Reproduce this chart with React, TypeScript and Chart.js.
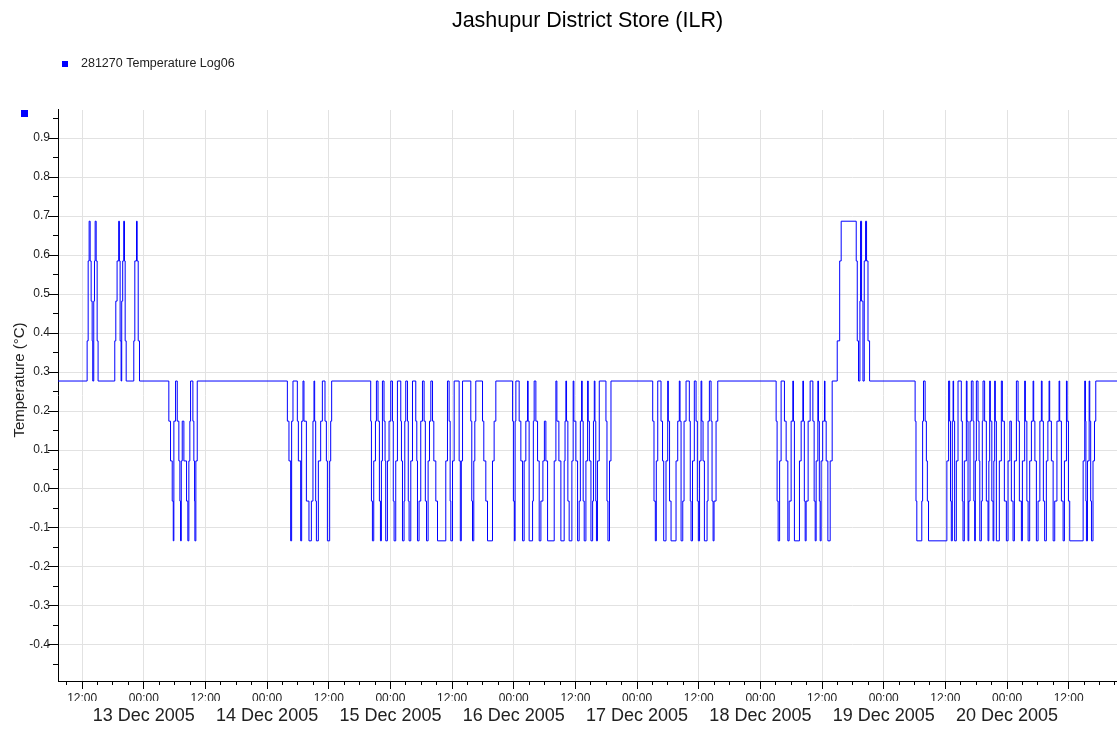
import { useEffect, useRef } from 'react';
import { Chart, registerables } from 'chart.js';

Chart.register(...registerables);

const FONT = '"Liberation Sans", Arial, Helvetica, sans-serif';

const chartTitle = 'Jashupur District Store (ILR)';
const seriesName = '281270 Temperature Log06';
const yAxisTitle = 'Temperature (°C)';

// x axis: hours since 12 Dec 2005 00:00
const xMin = 7.3;
const xMax = 213.4;
const yMin = -0.4926;
const yMax = 0.9723;

const xTickHours = [12, 24, 36, 48, 60, 72, 84, 96, 108, 120, 132, 144, 156, 168, 180, 192, 204];
const xTickLabels = ['12:00', '00:00', '12:00', '00:00', '12:00', '00:00', '12:00', '00:00', '12:00', '00:00', '12:00', '00:00', '12:00', '00:00', '12:00', '00:00', '12:00'];
const dateTickHours = [24, 48, 72, 96, 120, 144, 168, 192];
const dateTickLabels = ['13 Dec 2005', '14 Dec 2005', '15 Dec 2005', '16 Dec 2005', '17 Dec 2005', '18 Dec 2005', '19 Dec 2005', '20 Dec 2005'];
const yTickValues = [-0.4, -0.3, -0.2, -0.1, 0.0, 0.1, 0.2, 0.3, 0.4, 0.5, 0.6, 0.7, 0.8, 0.9];
const yMinorTicks = [-0.45, -0.35, -0.25, -0.15, -0.05, 0.05, 0.15, 0.25, 0.35, 0.45, 0.55, 0.65, 0.75, 0.85, 0.95];

// change points: [hour, temperature °C] — value holds from that hour on
const spikesDec12: [number, number][] = [
  [7.3, 0.277],
  [12.97, 0.380], [13.17, 0.585], [13.36, 0.687], [13.56, 0.585], [13.75, 0.482], [13.95, 0.380], [14.06, 0.277],
  [14.26, 0.482], [14.40, 0.585], [14.53, 0.687], [14.73, 0.585], [14.92, 0.380], [15.10, 0.277],
  [18.35, 0.380], [18.55, 0.482], [18.80, 0.585], [19.11, 0.687], [19.25, 0.585], [19.39, 0.380], [19.58, 0.277],
  [19.70, 0.482], [19.89, 0.585], [20.09, 0.687], [20.24, 0.585], [20.37, 0.380], [20.57, 0.277],
  [22.05, 0.380], [22.25, 0.585], [22.58, 0.687], [22.71, 0.585], [22.91, 0.380], [23.16, 0.277],
];

const dipsDec13: [number, number][] = [
  [28.87, 0.174], [29.20, 0.072], [29.53, -0.031], [29.73, -0.133], [29.85, 0.174], [30.18, 0.277],
  [30.51, 0.174], [30.82, 0.072], [31.02, -0.031], [31.15, -0.133], [31.29, 0.072], [31.48, 0.174],
  [31.80, 0.072], [32.32, -0.031], [32.57, -0.133], [32.77, 0.072], [32.96, 0.174], [33.10, 0.277],
  [33.55, 0.174], [33.74, 0.072], [33.88, -0.031], [33.94, -0.133], [34.13, 0.072], [34.40, 0.277],
];

const dipsDec14: [number, number][] = [
  [51.94, 0.174], [52.25, 0.072], [52.58, -0.133], [52.77, 0.174], [53.03, 0.277],
  [53.88, 0.174], [54.08, 0.072], [54.53, -0.133], [54.72, 0.174], [54.98, 0.277],
  [55.17, 0.174], [55.64, -0.031], [56.14, -0.133], [56.61, -0.031], [56.92, 0.174], [57.12, 0.277],
  [57.25, 0.174], [57.45, -0.031], [57.59, -0.133], [57.97, 0.072], [58.42, 0.174], [58.75, 0.277],
  [59.26, 0.174], [59.53, 0.072], [59.73, -0.133], [60.17, 0.072], [60.37, 0.174], [60.56, 0.277],
];

const dipsDec15: [number, number][] = [
  [68.16, 0.174], [68.30, -0.031], [68.49, -0.133], [68.75, 0.072], [69.08, 0.174], [69.27, 0.277],
  [69.58, 0.174], [69.85, -0.031], [70.05, -0.133], [70.24, 0.072], [70.44, 0.277],
  [70.75, 0.174], [70.95, 0.072], [71.08, -0.133], [71.41, 0.072], [71.73, 0.174], [72.06, 0.277],
  [72.39, 0.174], [72.55, -0.031], [72.71, -0.133], [73.03, 0.072], [73.36, 0.277],
  [74.01, 0.174], [74.14, 0.072], [74.34, -0.133], [74.65, -0.031], [74.79, 0.174], [74.98, 0.277],
  [75.31, 0.174], [75.47, -0.031], [75.63, -0.133], [75.96, 0.072], [76.29, 0.277],
  [76.93, 0.174], [77.13, 0.072], [77.26, -0.133], [77.57, -0.031], [77.90, 0.174], [78.23, 0.277],
  [78.55, 0.174], [78.79, -0.031], [79.02, -0.133], [79.33, 0.072], [79.60, 0.174], [79.86, 0.277],
  [80.19, 0.174], [80.44, 0.072], [80.83, -0.031], [81.16, -0.133], [82.77, 0.072], [83.10, 0.277],
  [83.42, 0.174], [83.62, -0.031], [83.75, -0.133], [84.08, 0.072], [84.40, 0.277],
  [85.37, 0.072], [85.60, -0.133], [85.79, 0.072], [86.03, 0.277],
  [87.64, 0.174], [87.83, -0.031], [87.97, -0.133], [88.22, 0.072], [88.42, 0.174], [88.61, 0.277],
  [89.92, 0.174], [90.17, 0.072], [90.56, -0.031], [90.89, -0.133], [91.86, 0.072], [92.18, 0.174], [92.51, 0.277],
];

const dipsDec16: [number, number][] = [
  [95.77, 0.174], [95.93, -0.031], [96.12, -0.133], [96.26, 0.174], [96.41, 0.277],
  [97.05, 0.174], [97.38, 0.072], [97.71, -0.133], [98.02, 0.072], [98.35, 0.174], [98.68, 0.277],
  [98.80, 0.174], [98.99, -0.133], [99.66, -0.031], [99.81, 0.174], [99.97, 0.277],
  [100.30, 0.174], [100.63, 0.072], [100.95, -0.133], [101.28, -0.031], [101.67, 0.072], [101.96, 0.174],
  [102.25, 0.072], [102.58, -0.133], [103.87, 0.072], [104.20, 0.277],
  [104.39, 0.174], [104.78, 0.072], [105.17, -0.133], [105.81, 0.072], [105.98, 0.174], [106.14, 0.277],
  [106.27, 0.174], [106.53, -0.031], [106.78, -0.133], [107.31, 0.072], [107.56, 0.277],
  [107.70, 0.174], [108.09, 0.072], [108.42, -0.133], [108.73, -0.031], [108.96, 0.174], [109.20, 0.277],
  [109.32, 0.174], [109.51, -0.031], [109.71, -0.133], [110.04, 0.072], [110.37, 0.277],
  [110.49, 0.174], [110.72, 0.072], [111.02, -0.133], [111.35, -0.031], [111.51, 0.174], [111.67, 0.277],
  [111.80, 0.174], [111.96, -0.031], [112.09, -0.133], [112.29, 0.072], [112.64, 0.277],
  [113.94, 0.174], [114.14, -0.031], [114.33, -0.133], [114.63, 0.072], [114.92, 0.277],
];

const dipsDec17: [number, number][] = [
  [123.04, 0.174], [123.29, -0.031], [123.55, -0.133], [123.74, 0.072], [124.02, 0.277],
  [124.66, 0.174], [124.95, 0.072], [125.18, -0.133], [125.63, 0.072], [125.96, 0.277],
  [126.08, 0.174], [126.32, -0.031], [126.61, -0.133], [127.58, 0.072], [127.91, 0.174], [128.22, 0.277],
  [128.36, 0.174], [128.56, -0.133], [128.89, -0.031], [129.14, 0.174], [129.53, 0.277],
  [130.17, 0.174], [130.35, -0.031], [130.50, -0.133], [130.79, 0.072], [131.14, 0.277],
  [131.48, 0.174], [131.73, -0.031], [131.92, -0.133], [132.16, 0.072], [132.45, 0.277],
  [132.59, 0.174], [132.84, 0.072], [133.10, -0.133], [133.62, -0.031], [133.81, 0.174], [134.07, 0.277],
  [134.40, 0.174], [134.59, -0.031], [134.79, -0.133], [134.98, -0.031], [135.37, 0.174], [135.70, 0.277],
];

const dipsDec18: [number, number][] = [
  [147.06, 0.174], [147.25, -0.031], [147.45, -0.133], [147.74, 0.072], [148.03, 0.277],
  [148.68, 0.174], [149.01, 0.072], [149.34, -0.133], [149.59, -0.031], [149.98, 0.174], [150.31, 0.277],
  [150.43, 0.174], [150.62, -0.133], [151.60, 0.072], [151.93, 0.174], [152.26, 0.277],
  [152.38, 0.174], [152.55, -0.031], [152.71, -0.133], [152.90, -0.031], [153.29, 0.174], [153.68, 0.277],
  [154.21, 0.174], [154.46, -0.031], [154.66, -0.133], [154.85, 0.072], [155.18, 0.277],
  [155.30, 0.174], [155.47, -0.031], [155.63, -0.133], [155.82, 0.072], [156.12, 0.174], [156.47, 0.277],
  [156.57, 0.174], [156.80, 0.072], [157.13, -0.133], [157.58, 0.072], [157.97, 0.277],
];

const spikesDec18: [number, number][] = [
  [158.95, 0.380], [159.43, 0.585], [159.72, 0.687], [162.65, 0.585], [162.85, 0.380], [163.10, 0.277],
  [163.37, 0.482], [163.49, 0.687], [163.69, 0.482], [163.96, 0.277],
  [164.21, 0.585], [164.47, 0.687], [164.66, 0.585], [164.94, 0.380], [165.25, 0.277],
];

const dipsDec19: [number, number][] = [
  [174.11, 0.174], [174.28, -0.031], [174.44, -0.133], [175.41, -0.031], [175.57, 0.174], [175.74, 0.277],
  [176.06, 0.174], [176.30, 0.072], [176.49, -0.031], [176.72, -0.133], [180.29, 0.072], [180.63, 0.277],
  [180.83, 0.174], [181.00, -0.031], [181.15, -0.133], [181.35, 0.174], [181.50, 0.277],
  [181.60, 0.174], [181.80, -0.133], [182.13, 0.072], [182.46, 0.277],
  [183.10, 0.174], [183.30, -0.031], [183.43, -0.133], [183.69, 0.072], [184.08, 0.277],
  [184.21, 0.174], [184.41, -0.133], [184.56, -0.031], [184.80, 0.174], [185.05, 0.277],
  [185.38, 0.174], [185.54, -0.031], [185.70, -0.133], [185.83, 0.072], [186.03, 0.277],
  [186.35, 0.174], [186.55, 0.072], [186.70, -0.133], [187.00, -0.031], [187.19, 0.174], [187.33, 0.277],
  [187.64, 0.174], [187.97, -0.031], [188.30, -0.133], [188.46, 0.072], [188.62, 0.277],
  [188.75, 0.174], [189.04, -0.031], [189.28, -0.133], [189.43, 0.072], [189.59, 0.277],
  [189.72, 0.174], [189.92, -0.133], [190.50, 0.072], [190.89, 0.277],
];

const dipsDec20: [number, number][] = [
  [191.09, 0.174], [191.48, -0.031], [191.87, -0.133], [192.20, 0.072], [192.55, 0.174],
  [192.84, -0.031], [193.17, -0.133], [193.43, 0.072], [193.82, 0.277],
  [194.15, 0.174], [194.40, -0.031], [194.79, -0.133], [194.99, 0.072], [195.43, 0.277],
  [195.57, 0.174], [195.86, -0.031], [196.10, -0.133], [196.41, 0.072], [196.74, 0.174], [197.07, 0.277],
  [197.19, 0.174], [197.42, 0.072], [197.71, -0.133], [198.04, -0.031], [198.39, 0.174], [198.68, 0.277],
  [198.82, 0.174], [199.07, -0.031], [199.32, -0.133], [199.65, 0.072], [199.95, 0.174], [200.18, 0.277],
  [200.30, 0.174], [200.63, 0.072], [200.97, -0.133], [201.28, -0.031], [201.71, 0.174], [202.13, 0.277],
  [202.25, 0.174], [202.58, -0.031], [202.91, -0.133], [203.17, 0.072], [203.56, 0.277],
  [203.69, 0.174], [203.95, -0.031], [204.20, -0.133], [206.81, 0.072], [207.12, 0.277],
  [207.26, 0.174], [207.35, -0.031], [207.45, -0.133], [207.65, 0.072], [207.98, 0.277],
  [208.10, 0.174], [208.28, -0.031], [208.43, -0.133], [208.73, 0.072], [209.02, 0.174], [209.27, 0.277],
  [213.4, 0.277],
];

const allReadings = [
  ...spikesDec12, ...dipsDec13, ...dipsDec14, ...dipsDec15, ...dipsDec16,
  ...dipsDec17, ...dipsDec18, ...spikesDec18, ...dipsDec19, ...dipsDec20,
];

const alignPx = (p: number) => Math.round(p - 0.5) + 0.5;

const decorPlugin = {
  id: 'decor',
  afterDraw(chart: any) {
    const { ctx } = chart;
    const xs = chart.scales.x;
    const ys = chart.scales.y;
    ctx.save();
    // minor ticks
    ctx.strokeStyle = '#000';
    ctx.lineWidth = 1;
    ctx.beginPath();
    for (const v of yMinorTicks) {
      const py = alignPx(ys.getPixelForValue(v));
      ctx.moveTo(ys.right - 5, py);
      ctx.lineTo(ys.right, py);
    }
    for (let h = Math.ceil(xMin / 3) * 3; h <= xMax; h += 3) {
      if (h % 12 === 0) continue;
      const px = alignPx(xs.getPixelForValue(h));
      ctx.moveTo(px, xs.top);
      ctx.lineTo(px, xs.top + 4);
    }
    ctx.stroke();
    // legend
    ctx.fillStyle = '#0000ff';
    ctx.fillRect(62, 61, 6, 6);
    ctx.fillRect(21, 110, 7, 7);
    ctx.fillStyle = '#222';
    ctx.font = `12.5px ${FONT}`;
    ctx.textAlign = 'left';
    ctx.textBaseline = 'alphabetic';
    ctx.fillText(seriesName, 81, 67);
    // y axis title
    ctx.translate(20, 380);
    ctx.rotate(-Math.PI / 2);
    ctx.font = `15px ${FONT}`;
    ctx.textAlign = 'center';
    ctx.textBaseline = 'middle';
    ctx.fillText(yAxisTitle, 0, 0);
    ctx.restore();
  },
};

export default function App() {
  const ref = useRef<HTMLCanvasElement>(null);

  useEffect(() => {
    document.body.style.margin = '0';
    const canvas = ref.current;
    if (!canvas) return;
    const chart = new Chart(canvas, {
      type: 'line',
      data: {
        datasets: [
          {
            label: seriesName,
            data: allReadings.map(([x, y]) => ({ x, y })),
            borderColor: '#0000ff',
            borderWidth: 1,
            pointRadius: 0,
            pointHoverRadius: 0,
            stepped: true,
            fill: false,
          },
        ],
      },
      options: {
        animation: false,
        responsive: false,
        devicePixelRatio: 1,
        events: [],
        layout: { padding: 0 },
        plugins: {
          legend: { display: false },
          tooltip: { enabled: false },
          title: {
            display: true,
            text: chartTitle,
            fullSize: false,
            color: '#000',
            font: { family: FONT, size: 21.5, weight: 'normal' },
            padding: { top: 8.6, bottom: 75.6 },
          },
        },
        scales: {
          x: {
            type: 'linear',
            position: 'bottom',
            min: xMin,
            max: xMax,
            weight: 0,
            afterBuildTicks: (s: any) => {
              s.ticks = xTickHours.map((v) => ({ value: v }));
            },
            afterFit: (s: any) => {
              s.height = 20;
            },
            ticks: {
              autoSkip: false,
              maxRotation: 0,
              padding: 2,
              color: '#222',
              font: { family: FONT, size: 12 },
              callback: (_v: any, i: number) => xTickLabels[i],
            },
            grid: { color: '#e2e2e2', lineWidth: 1, tickColor: '#000', tickLength: 8, drawTicks: true },
            border: { display: true, color: '#000', width: 1 },
          },
          xDate: {
            type: 'linear',
            position: 'bottom',
            min: xMin,
            max: xMax,
            weight: 1,
            afterBuildTicks: (s: any) => {
              s.ticks = dateTickHours.map((v) => ({ value: v }));
            },
            afterFit: (s: any) => {
              s.height = 28;
            },
            ticks: {
              autoSkip: false,
              maxRotation: 0,
              padding: 4,
              color: '#222',
              font: { family: FONT, size: 18 },
              callback: (_v: any, i: number) => dateTickLabels[i],
            },
            grid: { display: false, drawTicks: false },
            border: { display: false },
          },
          y: {
            type: 'linear',
            position: 'left',
            min: yMin,
            max: yMax,
            afterBuildTicks: (s: any) => {
              s.ticks = yTickValues.map((v) => ({ value: v }));
            },
            afterFit: (s: any) => {
              s.width = 58;
            },
            ticks: {
              padding: -2,
              color: '#222',
              font: { family: FONT, size: 12 },
              callback: (v: any) => Number(v).toFixed(1),
            },
            grid: { color: '#e2e2e2', lineWidth: 1, tickColor: '#000', tickLength: 10, drawTicks: true },
            border: { display: true, color: '#000', width: 1 },
          },
        },
      } as any,
      plugins: [decorPlugin],
    });
    return () => chart.destroy();
  }, []);

  return (
    <div style={{ position: 'absolute', left: 0, top: 0, width: 1117, height: 729, background: '#fff' }}>
      <canvas ref={ref} width={1117} height={729} style={{ display: 'block', width: 1117, height: 729 }} />
    </div>
  );
}
